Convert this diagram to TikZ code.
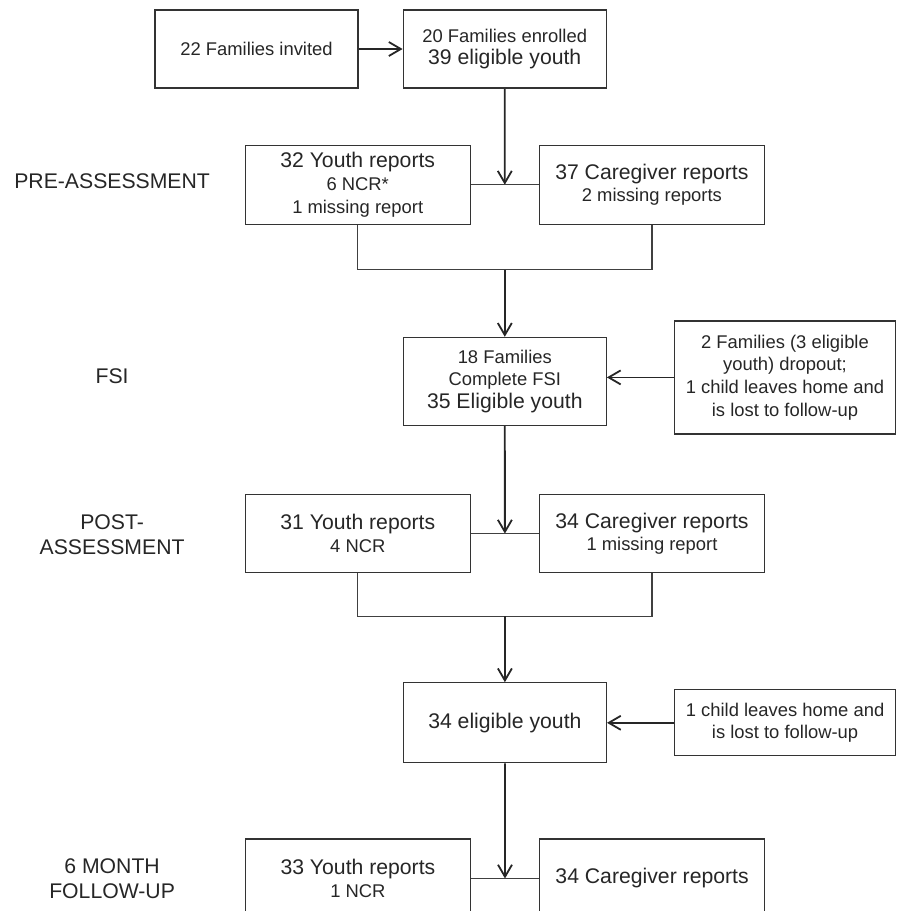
\documentclass[tikz,border=0pt]{standalone}
\usepackage{fontspec}
\setmainfont{Liberation Sans}
\usetikzlibrary{positioning, arrows.meta, calc, backgrounds}
\newcommand{\fsbig}{\fontsize{10.6}{12.2}\selectfont}
\newcommand{\fssmall}{\fontsize{9.2}{11.3}\selectfont}

\begin{document}
\begin{tikzpicture}[
  box/.style={draw=black!80, line width=0.6pt, align=center, inner sep=2pt,
              font=\fssmall, text=black!85},
  stage/.style={box, minimum width=101.5pt, minimum height=39pt},
  report/.style={box, minimum width=112.5pt, minimum height=39.5pt},
  loss/.style={box, minimum width=110.5pt},
  phase/.style={font=\fsbig, align=center, text=black!85, inner sep=0pt},
  arr/.style={-{Straight Barb[length=6pt, width=7pt]}, line width=0.9pt, color=black!85},
  link/.style={line width=0.6pt, color=black!75},
]
\useasboundingbox (0,0) rectangle (448pt,-455.5pt);

% ---- Recruitment (top row) ----
\node[stage] (inv) at (128.25pt,-24.5pt) {22 Families invited};
\node[stage, right=22pt of inv] (enr) {20 Families enrolled\\{\fsbig 39 eligible youth}};

% ---- Pre-assessment reports ----
\node[report, below=28pt of enr, xshift=-73.5pt] (pyouth) {{\fsbig 32 Youth reports}\\6 NCR*\\1 missing report};
\node[report, right=34pt of pyouth] (pcare) {{\fsbig 37 Caregiver reports}\\2 missing reports};

% ---- FSI ----
\node[stage, minimum height=44pt, below=56pt of $(pyouth.south)!0.5!(pcare.south)$] (fsi)
  {18 Families\\Complete FSI\\{\fsbig 35 Eligible youth}};
\node[loss, minimum height=56.5pt, right=33.5pt of fsi, yshift=2pt] (drop)
  {2 Families (3 eligible\\youth) dropout;\\1 child leaves home and\\is lost to follow-up};

% ---- Post-assessment reports ----
\node[report, minimum height=39pt, below=34pt of fsi, xshift=-73.5pt] (qyouth) {{\fsbig 31 Youth reports}\\4 NCR};
\node[report, minimum height=39pt, right=34pt of qyouth] (qcare) {{\fsbig 34 Caregiver reports}\\1 missing report};

% ---- Retained youth ----
\node[stage, minimum height=40pt, font=\fsbig, below=54.5pt of $(qyouth.south)!0.5!(qcare.south)$] (elig) {34 eligible youth};
\node[loss, minimum height=33pt, right=33.5pt of elig] (lost) {1 child leaves home and\\is lost to follow-up};

% ---- 6 month follow-up reports ----
\node[report, below=37.5pt of elig, xshift=-73.5pt] (fyouth) {{\fsbig 33 Youth reports}\\1 NCR};
\node[report, font=\fsbig, right=34pt of fyouth] (fcare) {34 Caregiver reports};

% ---- Phase labels (left column) ----
\node[phase, left=66.25pt of pyouth.west, anchor=center, yshift=2pt] (lpre) {PRE-ASSESSMENT};
\node[phase] (lfsi) at ($(lpre |- fsi)+(0,2.5pt)$) {FSI};
\node[phase] (lpost) at ($(lpre |- qyouth)+(0,-0.5pt)$) {POST-\\ASSESSMENT};
\node[phase] (lfol) at (lpre |- fyouth) {6 MONTH\\FOLLOW-UP};

% ---- Join points ----
\coordinate (prejoin) at ($(pyouth.east)!0.5!(pcare.west)$);
\coordinate (prebr) at ($(pyouth.south)!0.5!(pcare.south)+(0,-22.5pt)$);
\coordinate (postjoin) at ($(qyouth.east)!0.5!(qcare.west)$);
\coordinate (postbr) at ($(qyouth.south)!0.5!(qcare.south)+(0,-21.5pt)$);
\coordinate (foljoin) at ($(fyouth.east)!0.5!(fcare.west)$);

% ---- Connectors ----
\begin{scope}[on background layer]
  % Recruitment -> pre-assessment
  \draw[arr] (inv) -- (enr);
  \draw[arr] (enr) -- (prejoin);
  \draw[link] (pyouth) -- (pcare);
  \draw[link] (pyouth.south) |- (prebr) -| (pcare.south);

  % Pre-assessment -> FSI -> post-assessment
  \draw[arr] (prebr) -- (fsi);
  \draw[arr] (drop.west) -- (drop.west -| fsi.east);
  \draw[arr] (fsi) -- (postjoin);
  \draw[link] (qyouth) -- (qcare);
  \draw[link] (qyouth.south) |- (postbr) -| (qcare.south);

  % Post-assessment -> follow-up
  \draw[arr] (postbr) -- (elig);
  \draw[arr] (lost) -- (elig);
  \draw[arr] (elig) -- (foljoin);
  \draw[link] (fyouth) -- (fcare);
\end{scope}

\end{tikzpicture}
\end{document}
